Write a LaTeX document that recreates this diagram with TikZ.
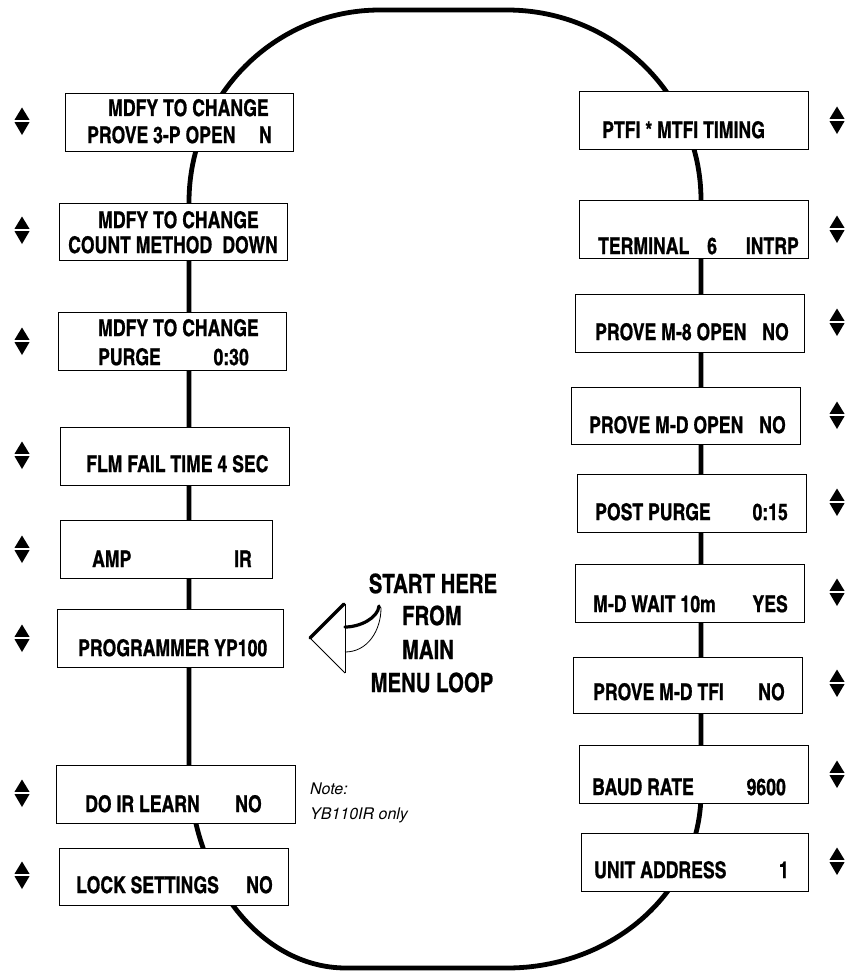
\documentclass[tikz,border=0pt]{standalone}
\usepackage{fontspec}
\newfontfamily\lcd{texgyreheroscn-bold.otf}[FakeStretch=0.935, FakeBold=0.8]
\newfontfamily\noteit{texgyreheros-italic.otf}
\tikzset{
  box/.style={draw, line width=1.1pt, fill=white, anchor=north west, inner sep=0pt},
  loopline/.style={line width=4.8pt},
  lcdl/.style={font=\lcd\fontsize{23}{26}\selectfont, inner sep=0pt, anchor=base west},
  lcdr/.style={font=\lcd\fontsize{23}{26}\selectfont, inner sep=0pt, anchor=base east},
  starttxt/.style={font=\lcd\fontsize{26.5}{30}\selectfont, inner sep=0pt, anchor=base},
  notetxt/.style={font=\noteit\fontsize{16}{19}\selectfont, inner sep=0pt, anchor=base west},
  updown/.pic={
    \fill (-7.5,-1.2) -- (7.5,-1.2) -- (0,-13.5) -- cycle;
    \fill (-7.5,1.2) -- (7.5,1.2) -- (0,14) -- cycle;
  },
  thickedge/.style={line width=3.2pt, line cap=round},
  thinedge/.style={line width=0.8pt},
}
\begin{document}
\begin{tikzpicture}[x=1pt,y=-1pt]
\path[use as bounding box] (0,0) rectangle (845,971);

% main loop
\draw[loopline] (380,10) -- (507,10)
  .. controls (614,10) and (701,95) .. (701,200) -- (701,793)
  .. controls (701,890) and (614,968) .. (507,968) -- (346,968)
  .. controls (259,968) and (189,876) .. (189,763) -- (189,202)
  .. controls (189,96) and (275,10) .. (380,10) -- cycle;

% left boxes
\node[box, minimum width=228pt, minimum height=58pt] (b1) at (65,93) {};
\node[box, minimum width=228pt, minimum height=57pt] (b2) at (59,203) {};
\node[box, minimum width=228pt, minimum height=58pt] (b3) at (58,312) {};
\node[box, minimum width=229pt, minimum height=58pt] (b4) at (60,427) {};
\node[box, minimum width=212pt, minimum height=58pt] (b5) at (60,520) {};
\node[box, minimum width=226pt, minimum height=58pt] (b6) at (57,609) {};
\node[box, minimum width=239pt, minimum height=58pt] (b7) at (56,765) {};
\node[box, minimum width=229pt, minimum height=57pt] (b8) at (59,848) {};

% right boxes
\node[box, minimum width=229pt, minimum height=58pt] (r1) at (579,91) {};
\node[box, minimum width=229pt, minimum height=58pt] (r2) at (579,200) {};
\node[box, minimum width=229pt, minimum height=58pt] (r3) at (575,294) {};
\node[box, minimum width=229pt, minimum height=57pt] (r4) at (571,387) {};
\node[box, minimum width=229pt, minimum height=58pt] (r5) at (577,474) {};
\node[box, minimum width=229pt, minimum height=58pt] (r6) at (575,564) {};
\node[box, minimum width=229pt, minimum height=56pt] (r7) at (573,657) {};
\node[box, minimum width=229pt, minimum height=58pt] (r8) at (579,745) {};
\node[box, minimum width=227pt, minimum height=58pt] (r9) at (581,833) {};

% left texts
\node[lcdl] (b1a) at (108,116) {MDFY TO CHANGE};
\node[lcdl] (b1b) at (87,143) {PROVE 3-P OPEN};
\node[lcdr] (b1c) at (272,143) {N};
\node[lcdl] (b2a) at (98,228) {MDFY TO CHANGE};
\node[lcdl] (b2b) at (68,253) {COUNT METHOD};
\node[lcdr] (b2c) at (278,253) {DOWN};
\node[lcdl] (b3a) at (98,336) {MDFY TO CHANGE};
\node[lcdl] (b3b) at (98,365) {PURGE};
\node[lcdr] (b3c) at (249,365) {0:30};
\node[lcdl] (b4a) at (86,472) {FLM FAIL TIME 4 SEC};
\node[lcdl] (b5a) at (92,567) {AMP};
\node[lcdr] (b5b) at (252,567) {IR};
\node[lcdl] (b6a) at (78,656) {PROGRAMMER YP100};
\node[lcdl] (b7a) at (85,812) {DO IR LEARN};
\node[lcdr] (b7b) at (262,812) {NO};
\node[lcdl] (b8a) at (76,893) {LOCK SETTINGS};
\node[lcdr] (b8b) at (273,893) {NO};

% right texts
\node[lcdl] (r1a) at (602,138) {PTFI * MTFI TIMING};
\node[lcdl] (r2a) at (598,254) {TERMINAL};
\node[lcdl] (r2b) at (707,254) {6};
\node[lcdr] (r2c) at (799,254) {INTRP};
\node[lcdl] (r3a) at (595,340) {PROVE M-8 OPEN};
\node[lcdr] (r3b) at (789,340) {NO};
\node[lcdl] (r4a) at (589,433) {PROVE M-D OPEN};
\node[lcdr] (r4b) at (786,433) {NO};
\node[lcdl] (r5a) at (595,520) {POST PURGE};
\node[lcdr] (r5b) at (788,520) {0:15};
\node[lcdl] (r6a) at (593,612) {M-D WAIT 10m};
\node[lcdr] (r6b) at (788,612) {YES};
\node[lcdl] (r7a) at (593,700) {PROVE M-D TFI};
\node[lcdr] (r7b) at (785,700) {NO};
\node[lcdl] (r8a) at (592,795) {BAUD RATE};
\node[lcdr] (r8b) at (786,795) {9600};
\node[lcdl] (r9a) at (594,878) {UNIT ADDRESS};
\node[lcdr] (r9b) at (789,878) {1};

% up/down markers
\foreach \y in {121,230,341,455,549,638,793,875}
  \pic at (22,\y) {updown};
\foreach \y in {120,229,322,415,502,592,683,774,861}
  \pic at (837,\y) {updown};

% note
\node[notetxt] (n1) at (310,794) {Note:};
\node[notetxt] (n2) at (310,819) {YB110IR only};

% start arrow
\coordinate (tip) at (310,638);
\coordinate (hdtop) at (344,604);
\coordinate (hdbot) at (345,673);
\coordinate (shu) at (345,627);
\coordinate (shl) at (345,652);
\coordinate (tailu) at (379,606);
\coordinate (taill) at (381,608);
\draw[thinedge] (tip) -- (hdbot);
\draw[thinedge] (345,604) -- (hdbot);
\draw[thinedge] (shl) .. controls (368,652) and (381,630) .. (taill) -- (tailu);
\draw[thickedge] (tip) -- (hdtop);
\draw[thickedge] (shu) .. controls (360,627) and (378,618) .. (tailu);

\node[starttxt] (s1) at (433,593) {START HERE};
\node[starttxt] (s2) at (432,625) {FROM};
\node[starttxt] (s3) at (428,659) {MAIN};
\node[starttxt] (s4) at (432,692) {MENU LOOP};
\end{tikzpicture}
\end{document}
